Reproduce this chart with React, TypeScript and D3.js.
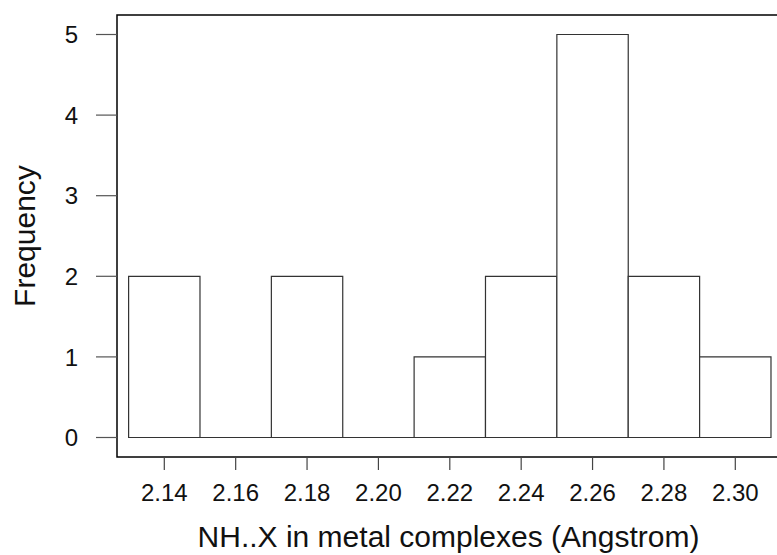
import React from "react";
import * as d3 from "d3";

const width = 777;
const height = 555;

// histogram bins (left edges) and counts
const binStarts = [2.13, 2.15, 2.17, 2.19, 2.21, 2.23, 2.25, 2.27, 2.29];
const binWidth = 0.02;
const counts = [2, 0, 2, 0, 1, 2, 5, 2, 1];

const xTicks = [2.14, 2.16, 2.18, 2.2, 2.22, 2.24, 2.26, 2.28, 2.3];
const yTicks = [0, 1, 2, 3, 4, 5];

const xLabel = "NH..X in metal complexes (Angstrom)";
const yLabel = "Frequency";

const box = { left: 117, top: 15, right: 780, bottom: 457 };
const font = "'Liberation Sans', Arial, sans-serif";

export default function App() {
  const x = d3.scaleLinear().domain([2.14, 2.3]).range([164.3, 735.3]);
  const y = d3.scaleLinear().domain([0, 5]).range([437.5, 34.5]);

  // closed outline for each bin; a zero count still leaves its base line
  const barPath = (b: number, c: number) => {
    const p = d3.path();
    p.moveTo(x(b), y(0));
    p.lineTo(x(b), y(c));
    p.lineTo(x(b + binWidth), y(c));
    p.lineTo(x(b + binWidth), y(0));
    p.closePath();
    return p.toString();
  };

  return (
    <svg
      width={width}
      height={height}
      style={{ position: "absolute", left: 0, top: 0, background: "#fff" }}
    >
      <rect
        x={box.left}
        y={box.top}
        width={box.right - box.left}
        height={box.bottom - box.top}
        fill="none"
        stroke="#000"
        strokeWidth={1.5}
      />
      {binStarts.map((b, i) => (
        <path key={i} d={barPath(b, counts[i])} fill="#fff" stroke="#333" strokeWidth={1.2} />
      ))}
      {xTicks.map((t) => (
        <g key={t}>
          <line x1={x(t)} x2={x(t)} y1={box.bottom} y2={box.bottom + 13} stroke="#444" strokeWidth={1.2} />
          <text x={x(t)} y={501} textAnchor="middle" fontFamily={font} fontSize={24} fill="#111">
            {d3.format(".2f")(t)}
          </text>
        </g>
      ))}
      {yTicks.map((t) => (
        <g key={t}>
          <line x1={96} x2={box.left} y1={y(t)} y2={y(t)} stroke="#555" strokeWidth={1.2} />
          <text x={78} y={y(t)} dy="0.36em" textAnchor="end" fontFamily={font} fontSize={24} fill="#111">
            {t}
          </text>
        </g>
      ))}
      <text
        x={(box.left + box.right) / 2}
        y={547}
        textAnchor="middle"
        fontFamily={font}
        fontSize={30}
        fill="#111"
      >
        {xLabel}
      </text>
      <text
        transform={`translate(35,${(box.top + box.bottom) / 2}) rotate(-90)`}
        textAnchor="middle"
        fontFamily={font}
        fontSize={30}
        fill="#111"
      >
        {yLabel}
      </text>
    </svg>
  );
}
